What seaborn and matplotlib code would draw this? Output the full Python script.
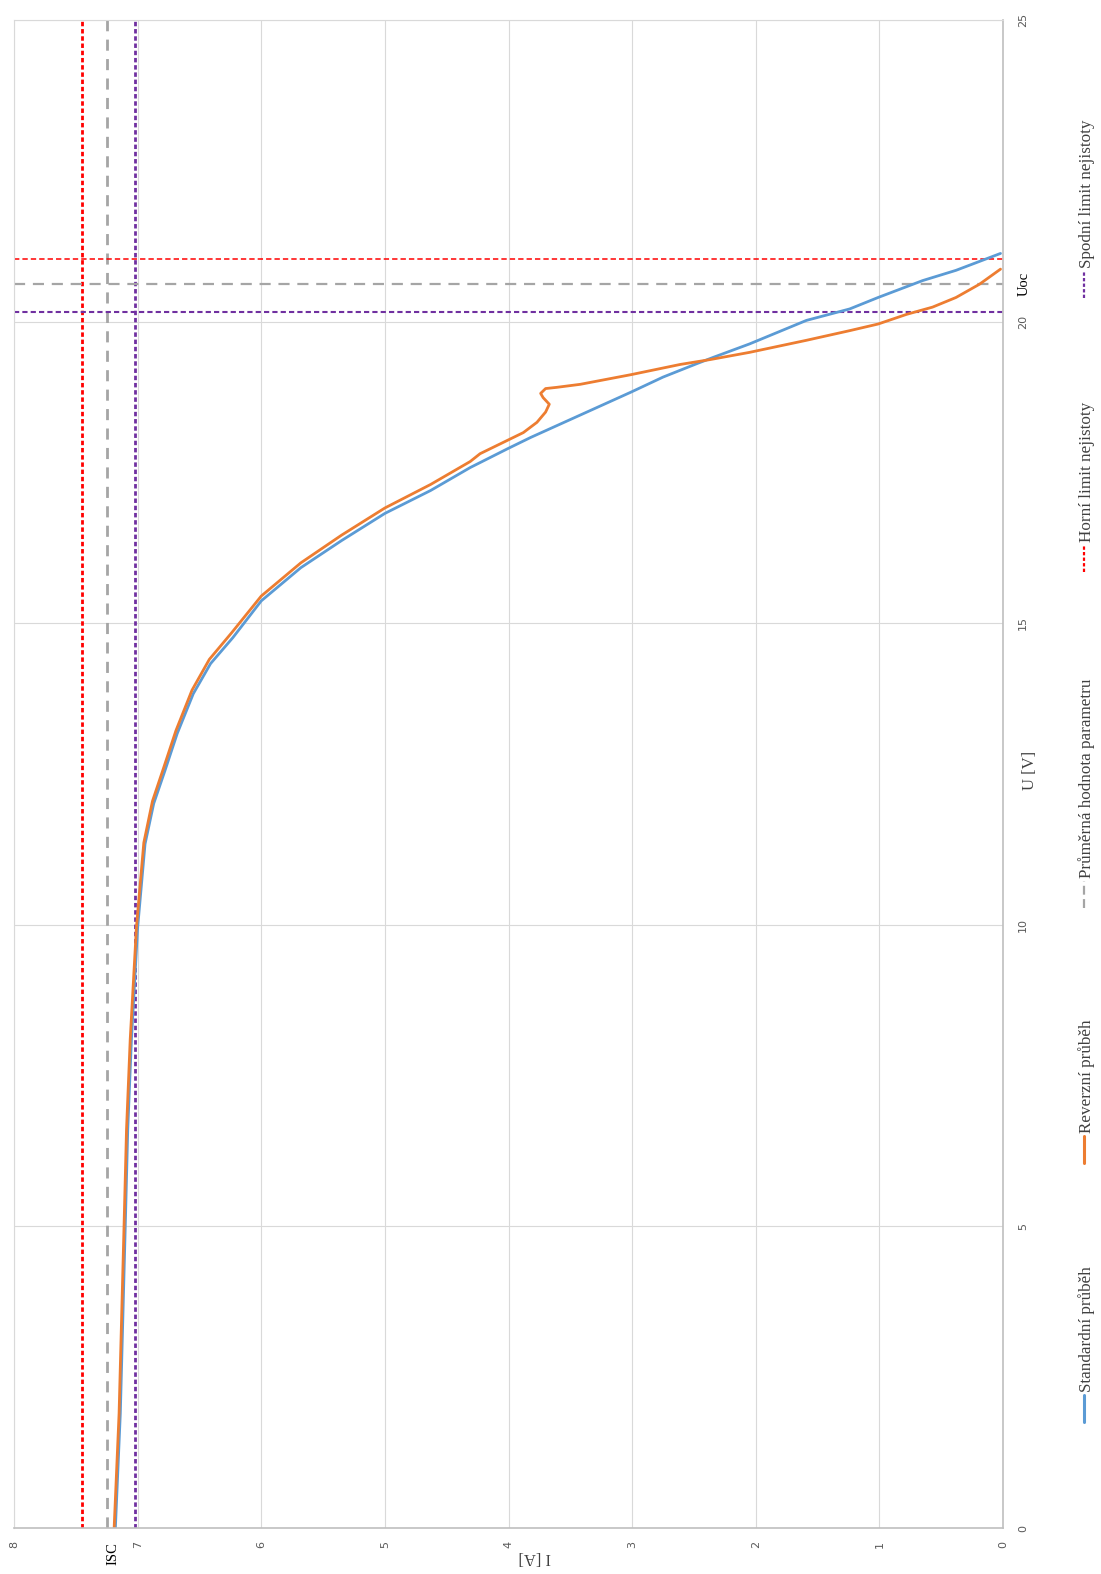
import pandas as pd
import seaborn as sns
import matplotlib.pyplot as plt
from matplotlib.lines import Line2D

# Standardní průběh - napětí [V] a proud [A]
u_std = [0.0, 1.9, 3.45, 5.0, 6.6, 8.1, 9.95, 11.34, 12.01, 12.55, 13.17, 13.83,
         14.33, 14.76, 15.37, 15.92, 16.37, 16.82, 17.2, 17.58, 17.9, 18.08, 18.33,
         18.58, 18.83, 19.08, 19.3, 19.41, 19.63, 20.02, 20.21, 20.4, 20.68, 20.85, 21.13]
i_std = [7.18, 7.14, 7.12, 7.1, 7.08, 7.05, 7.0, 6.94, 6.87, 6.78, 6.68, 6.55,
         6.41, 6.23, 6.0, 5.68, 5.35, 5.0, 4.63, 4.31, 4.0, 3.82, 3.55,
         3.28, 3.01, 2.75, 2.48, 2.34, 2.05, 1.59, 1.24, 1.01, 0.65, 0.38, 0.02]

# Reverzní průběh
u_rev = [0.0, 1.9, 3.45, 5.0, 6.6, 8.1, 9.95, 11.36, 12.05, 12.6, 13.22, 13.89,
         14.4, 14.84, 15.45, 16.0, 16.46, 16.91, 17.3, 17.68, 17.81, 18.03, 18.16,
         18.33, 18.5, 18.63, 18.74, 18.81, 18.89, 18.91, 18.96, 19.12, 19.29, 19.37,
         19.49, 19.69, 19.85, 19.96, 20.12, 20.24, 20.4, 20.62, 20.87]
i_rev = [7.19, 7.15, 7.13, 7.11, 7.09, 7.06, 7.01, 6.95, 6.88, 6.79, 6.69, 6.56,
         6.42, 6.24, 6.0, 5.68, 5.35, 5.0, 4.63, 4.31, 4.23, 4.01, 3.88,
         3.77, 3.7, 3.67, 3.72, 3.74, 3.7, 3.61, 3.42, 3.01, 2.61, 2.37,
         2.05, 1.59, 1.24, 1.01, 0.78, 0.57, 0.38, 0.19, 0.02]

# Isc a Uoc: průměr, horní a spodní limit nejistoty
isc_mean, isc_upper, isc_lower = 7.25, 7.45, 7.02
uoc_mean, uoc_upper, uoc_lower = 20.62, 21.03, 20.16

labels = ["Standardní průběh", "Reverzní průběh", "Průměrná hodnota parametru",
          "Horní limit nejistoty", "Spodní limit nejistoty"]
u_ticks = [0, 5, 10, 15, 20, 25]
i_ticks = [0, 1, 2, 3, 4, 5, 6, 7, 8]

df_std = pd.DataFrame({"U": u_std, "I": i_std})
df_rev = pd.DataFrame({"U": u_rev, "I": i_rev})

sns.set_theme(style="whitegrid")
plt.rcParams['font.family'] = ['Liberation Serif', 'DejaVu Serif']

BLUE, ORANGE, GREY, RED, PURPLE = "#5B9BD5", "#ED7D31", "#A5A5A5", "#FF0000", "#7030A0"
W, H = 1101, 1574

fig = plt.figure(figsize=(W / 100, H / 100), dpi=100)
ax = fig.add_axes([14 / W, (H - 1528) / H, (1003 - 14) / W, (1528 - 20) / H])

# graf je otočený: vodorovně proud I (8 -> 0), svisle napětí U
ax.set_xlim(8, 0)
ax.set_ylim(0, 25)
ax.set_xticks(i_ticks)
ax.set_yticks(u_ticks)
ax.yaxis.tick_right()
ax.grid(True, color="#D9D9D9", lw=0.8)
for side in ["top", "left"]:
    ax.spines[side].set_color("#D9D9D9")
    ax.spines[side].set_linewidth(0.8)
for side in ["bottom", "right"]:
    ax.spines[side].set_color("#BFBFBF")
    ax.spines[side].set_linewidth(1.2)

ax.tick_params(axis="x", labelrotation=90, length=0, pad=9, labelsize=8, labelcolor="#595959")
ax.tick_params(axis="y", labelrotation=90, length=0, pad=11, labelsize=8, labelcolor="#595959")
for lbl in ax.get_xticklabels() + ax.get_yticklabels():
    lbl.set_fontfamily("DejaVu Sans")
for lbl in ax.get_yticklabels():
    lbl.set_va("center")

# limity Isc (svislé) a Uoc (vodorovné)
ax.axvline(isc_upper, color=RED, lw=2.0, dashes=(1.6, 1.0))
ax.axvline(isc_mean, color=GREY, lw=2.0, dashes=(4, 3))
ax.axvline(isc_lower, color=PURPLE, lw=2.0, dashes=(1.6, 1.0))
ax.axhline(uoc_upper, color=RED, lw=1.1, dashes=(3.5, 2))
ax.axhline(uoc_mean, color=GREY, lw=1.6, dashes=(5, 3.5))
ax.axhline(uoc_lower, color=PURPLE, lw=1.5, dashes=(2.5, 1.5))

sns.lineplot(data=df_std, x="I", y="U", sort=False, estimator=None, color=BLUE, lw=2, ax=ax)
sns.lineplot(data=df_rev, x="I", y="U", sort=False, estimator=None, color=ORANGE, lw=2, ax=ax)
ax.set_xlabel("")
ax.set_ylabel("")

ax.annotate("ISC", xy=(isc_mean, 0), xycoords=("data", "axes fraction"), xytext=(6, -14),
            textcoords="offset pixels", rotation=90, ha="center", va="top", fontsize=10.5, color="black")
ax.annotate("Uoc", xy=(1, uoc_mean), xycoords=("axes fraction", "data"), xytext=(15, 0),
            textcoords="offset pixels", rotation=90, ha="left", va="center", fontsize=10.5, color="black")

fig.text(1030 / W, 1 - 770 / H, "U [V]", rotation=90, ha="center", va="center", fontsize=12, color="#404040")
fig.text(535 / W, 1 - 1557 / H, "I [A]", rotation=180, ha="center", va="center", fontsize=12, color="#404040")

# legenda (otočená)
styles = [dict(color=BLUE, lw=2.2), dict(color=ORANGE, lw=2.2),
          dict(color=GREY, lw=1.6, dashes=(4, 2, 4, 2, 1, 2)),
          dict(color=RED, lw=1.6, dashes=(1.5, 1.0)), dict(color=PURPLE, lw=1.6, dashes=(1.5, 1.0))]
starts = [1422, 1163, 908, 572, 298]
lx = 1084
for lab, st, y0 in zip(labels, styles, starts):
    fig.add_artist(Line2D([lx / W, lx / W], [1 - y0 / H, 1 - (y0 - 27) / H], **st))
    fig.text((lx + 3) / W, 1 - (y0 - 30) / H, lab, rotation=90, rotation_mode="anchor",
             ha="left", va="center", fontsize=12.3, color="#404040")

fig.savefig("out.png", dpi=100)
